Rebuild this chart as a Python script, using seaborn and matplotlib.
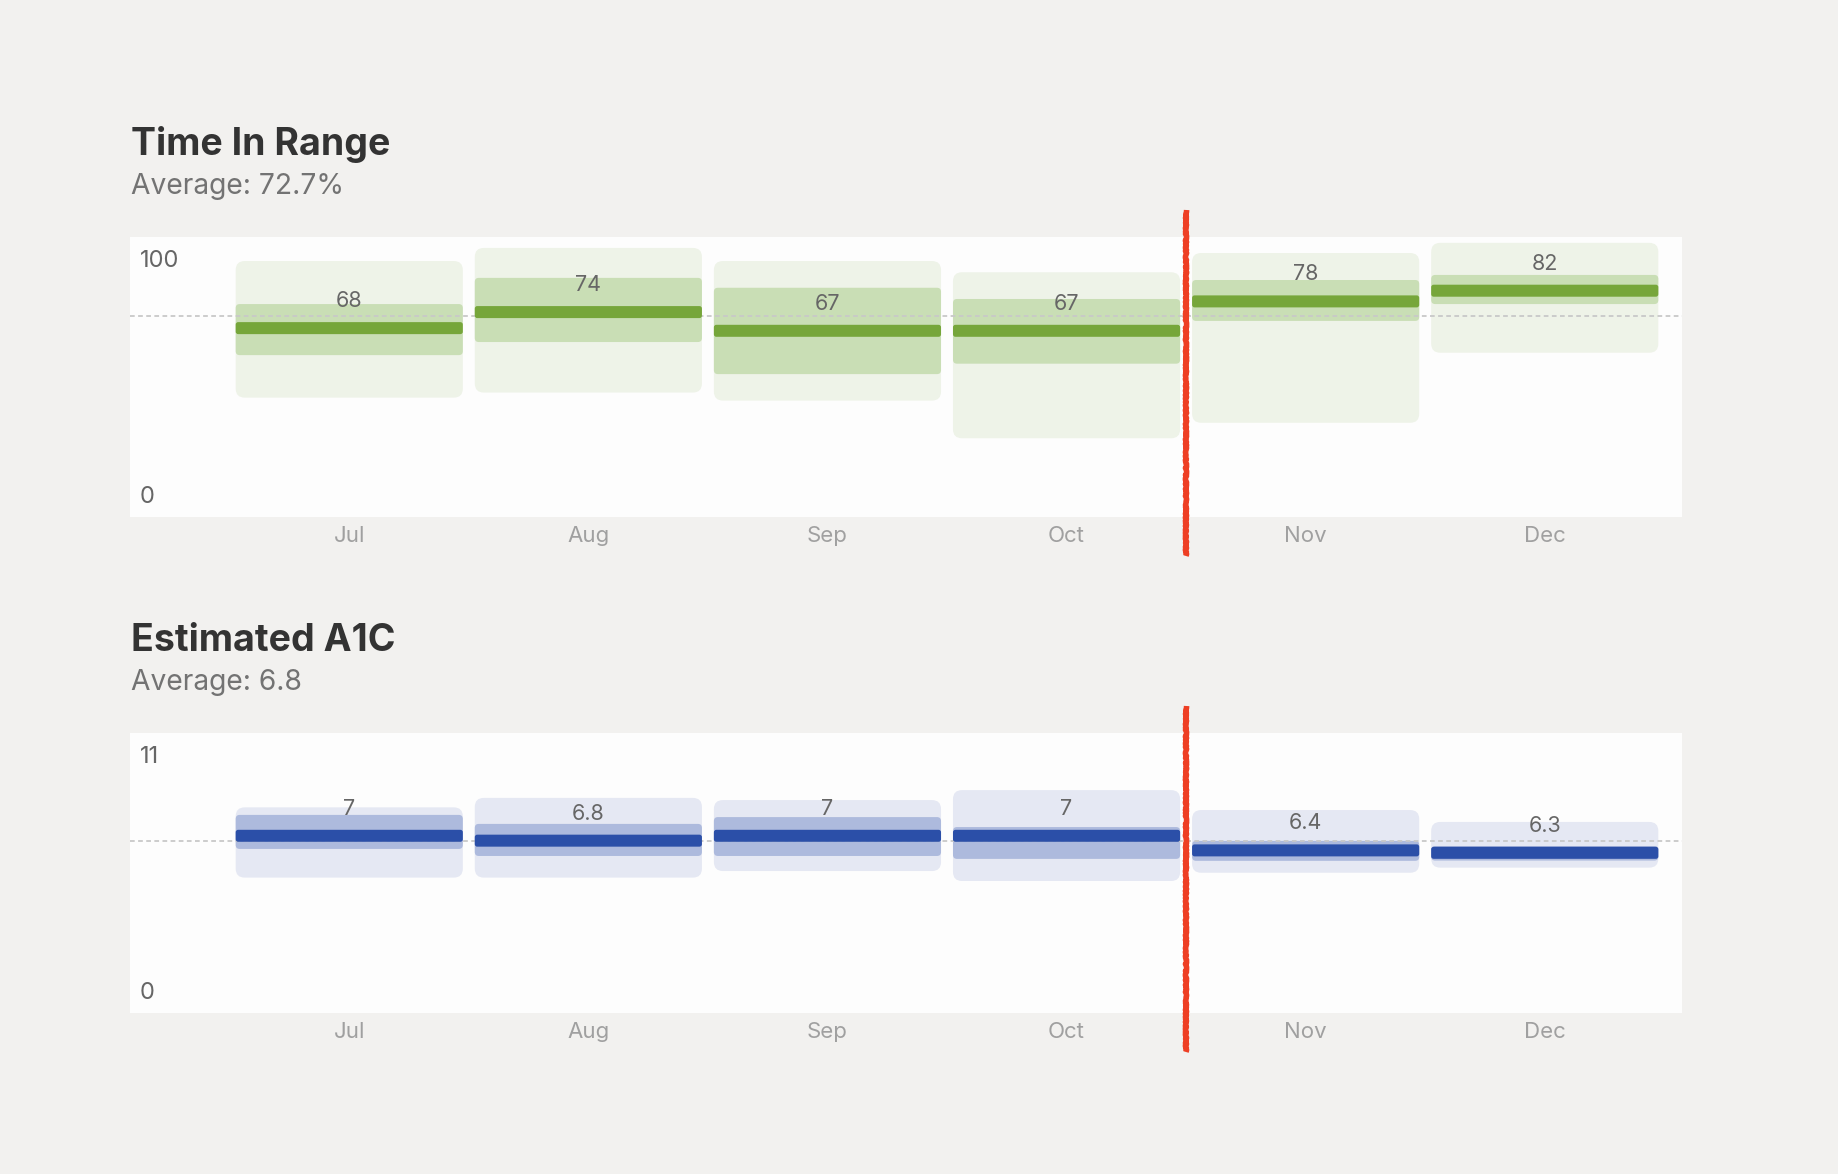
import numpy as np
import pandas as pd
import matplotlib
matplotlib.use('Agg')
import matplotlib.pyplot as plt
from matplotlib.patches import FancyBboxPatch
import seaborn as sns

# Dados
months = ['Jul', 'Aug', 'Sep', 'Oct', 'Nov', 'Dec']

# Time In Range (%)
tir_mean = [68, 74, 67, 67, 78, 82]
tir_outer_lo = [42.0, 43.9, 40.9, 26.8, 32.6, 58.8]
tir_outer_hi = [93.1, 98.0, 93.1, 88.9, 96.1, 99.9]
tir_inner_lo = [57.9, 62.8, 50.8, 54.7, 70.7, 77.0]
tir_inner_hi = [77.0, 86.8, 83.1, 78.9, 86.0, 87.9]
tir_avg = 72.7

# Estimated A1C
a1c_mean = [7.0, 6.8, 7.0, 7.0, 6.4, 6.3]
a1c_outer_lo = [5.28, 5.28, 5.55, 5.14, 5.48, 5.69]
a1c_outer_hi = [8.17, 8.56, 8.47, 8.88, 8.06, 7.57]
a1c_inner_lo = [6.46, 6.17, 6.17, 6.05, 5.97, 5.98]
a1c_inner_hi = [7.86, 7.49, 7.77, 7.36, 6.79, 6.58]
a1c_avg = 6.8

sns.set_theme(style='white')
plt.rcParams['font.family'] = ['Inter', 'DejaVu Sans']

BG = '#F2F1EF'
PANEL = '#FDFDFD'


def round_bars(ax, bars, r_px):
    # troca as barras quadradas do seaborn por barras arredondadas
    x0, y0 = ax.transData.transform((0, 0))
    x1, y1 = ax.transData.transform((1, 1))
    sx, sy = x1 - x0, y1 - y0
    for b in list(bars):
        p = FancyBboxPatch((b.get_x(), b.get_y()), b.get_width(), b.get_height(),
                           boxstyle=f'round,pad=0,rounding_size={r_px / sx}',
                           mutation_aspect=sx / sy, fc=b.get_facecolor(),
                           ec='none', lw=0, zorder=b.get_zorder())
        b.remove()
        ax.add_patch(p)


def draw_panel(ax, means, out_lo, out_hi, in_lo, in_hi, avg, top, ylim, colors):
    light, mid, dark = colors
    ax.set_facecolor(PANEL)
    sy = ax.bbox.height / (ylim[1] - ylim[0])
    thick = 12 / sy

    df = pd.DataFrame({'month': months, 'mean': means,
                       'out_lo': out_lo, 'out_hi': out_hi,
                       'in_lo': in_lo, 'in_hi': in_hi})
    df['outer'] = df['out_hi'] - df['out_lo']
    df['inner'] = df['in_hi'] - df['in_lo']

    layers = []
    for col, low, color, z in [('outer', df['out_lo'], light, 1),
                               ('inner', df['in_lo'], mid, 2)]:
        sns.barplot(data=df, x='month', y=col, order=months, bottom=low.values,
                    color=color, saturation=1, width=0.95, errorbar=None,
                    linewidth=0, zorder=z, ax=ax)
        layers.append(ax.containers[-1])
    sns.barplot(x=months, y=[thick] * len(months), order=months,
                bottom=(df['mean'] - thick / 2).values, color=dark, saturation=1,
                width=0.95, errorbar=None, linewidth=0, zorder=4, ax=ax)
    layers.append(ax.containers[-1])

    ax.axhline(avg, color='#C8C8C8', lw=1.3, ls=(0, (2.6, 1.9)), zorder=3)

    for i, v in enumerate(means):
        ax.annotate(f'{v:g}', (i, v), xytext=(0, 19.5), textcoords='offset points',
                    ha='center', va='center', fontsize=15.5, color='#666666', zorder=5)

    ax.set_xlim(-0.917, 5.574)
    ax.set_ylim(*ylim)
    for bars, r in zip(layers, [9, 4, 2.5]):
        round_bars(ax, bars, r)

    # rótulos do eixo y dentro do painel
    ax.annotate(f'{top:g}', (0, top), xycoords=('axes fraction', 'data'),
                xytext=(7.2, -5), textcoords='offset points', va='top', ha='left',
                fontsize=17, color='#666666')
    ax.annotate('0', (0, 0), xycoords=('axes fraction', 'data'),
                xytext=(7.2, 5), textcoords='offset points', va='baseline', ha='left',
                fontsize=17, color='#666666')

    ax.set_yticks([])
    ax.set_xlabel('')
    ax.set_ylabel('')
    ax.tick_params(axis='x', length=0, pad=6.6, labelsize=16, labelcolor='#A0A0A0')
    sns.despine(ax=ax, left=True, bottom=True)

    # marca vermelha entre Oct e Nov
    line, = ax.plot([3.5, 3.5], [-0.142, 1.094], transform=ax.get_xaxis_transform(),
                    color='#EE3F24', lw=4, clip_on=False, zorder=10,
                    solid_capstyle='butt')
    line.set_sketch_params(scale=0.6, length=3, randomness=4)


fig = plt.figure(figsize=(18.38, 11.74), dpi=100, facecolor=BG)
W, H = 1838, 1174

ax1 = fig.add_axes([130 / W, 1 - 516.7 / H, 1552 / W, 280 / H])
ax2 = fig.add_axes([130 / W, 1 - 1012.7 / H, 1552 / W, 280 / H])

draw_panel(ax1, tir_mean, tir_outer_lo, tir_outer_hi, tir_inner_lo, tir_inner_hi,
           tir_avg, 100, (-2.54, 102.2), ('#EEF3E8', '#C9DEB5', '#76A63A'))
draw_panel(ax2, a1c_mean, a1c_outer_lo, a1c_outer_hi, a1c_inner_lo, a1c_inner_hi,
           a1c_avg, 11, (-0.28, 11.243), ('#E5E8F3', '#ADBADD', '#2B4FA8'))

fig.text(131 / W, 1 - 155 / H, 'Time In Range', fontsize=27, fontweight='bold',
         color='#333333', va='baseline')
fig.text(131 / W, 1 - 194 / H, f'Average: {tir_avg}%', fontsize=20.3,
         color='#737373', va='baseline')
fig.text(131 / W, 1 - 651 / H, 'Estimated A1C', fontsize=27, fontweight='bold',
         color='#333333', va='baseline')
fig.text(131 / W, 1 - 690 / H, f'Average: {a1c_avg}', fontsize=20.3,
         color='#737373', va='baseline')

fig.savefig('out.png', dpi=100, facecolor=BG)
